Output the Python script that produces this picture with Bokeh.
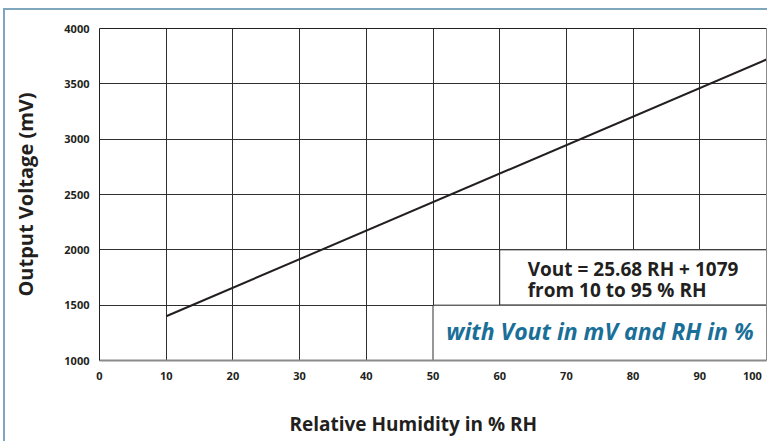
from bokeh.plotting import figure
from bokeh.models import LinearAxis, FixedTicker, Label, Range1d
from bokeh.embed import file_html
from bokeh.resources import INLINE

# ---- data ----
rh = [10, 100]                 # relative humidity (%)
vout = [1400, 3720]            # output voltage (mV) as drawn
x_ticks = [0, 10, 20, 30, 40, 50, 60, 70, 80, 90, 100]
y_ticks = [1000, 1500, 2000, 2500, 3000, 3500, 4000]
eq_line1 = "Vout = 25.68 RH + 1079"
eq_line2 = "from 10 to 95 % RH"
units_note = "with Vout in mV and RH in %"
x_title = "Relative Humidity in % RH"
y_title = "Output Voltage (mV)"

# ---- styles ----
FONT = "Open Sans"
DARK = "#231f20"
GRID = "#2f2f2f"
EDGE_GREY = "#8a8a8a"
BLUE = "#1a6f98"
BORDER = "#7ea7bd"
NBSP = "\u00a0"

p = figure(width=764, height=433,
           x_range=Range1d(x_ticks[0], x_ticks[-1]),
           y_range=Range1d(y_ticks[0], y_ticks[-1]),
           output_backend="svg", toolbar_location=None,
           min_border_left=94, min_border_right=3,
           min_border_top=18, min_border_bottom=83,
           x_axis_label=x_title + NBSP * 8, y_axis_label=y_title,
           styles={"margin-left": "3px", "margin-top": "8px",
                   "border-left": f"2px solid {BORDER}",
                   "border-top": f"2px solid {BORDER}"})
p.outline_line_color = None
p.background_fill_color = "white"
p.border_fill_color = "white"

# grid
p.xgrid.ticker = FixedTicker(ticks=x_ticks[1:-1])
p.ygrid.ticker = FixedTicker(ticks=y_ticks[1:-1])
p.grid.grid_line_color = GRID
p.grid.grid_line_width = 1

# axes
for ax in (p.xaxis[0], p.yaxis[0]):
    ax.major_tick_out = 0
    ax.major_tick_in = 0
    ax.minor_tick_out = 0
    ax.minor_tick_in = 0
    ax.major_label_text_font = FONT
    ax.major_label_text_font_style = "bold"
    ax.major_label_text_font_size = "11px"
    ax.major_label_text_color = DARK
    ax.axis_label_text_font = FONT
    ax.axis_label_text_font_style = "bold"
    ax.axis_label_text_color = DARK

p.xaxis.axis_label_text_font_size = "19px"
p.yaxis.axis_label_text_font_size = "20px"
p.xaxis.ticker = FixedTicker(ticks=x_ticks)
p.yaxis.ticker = FixedTicker(ticks=y_ticks)
# last label padded so it stays inside the page, as in the reference
p.xaxis.major_label_overrides = {x_ticks[-1]: str(x_ticks[-1]) + NBSP * 2}
p.xaxis.axis_line_color = EDGE_GREY
p.xaxis.axis_line_width = 2
p.yaxis.axis_line_color = DARK
p.yaxis.axis_line_width = 1
p.yaxis.major_label_standoff = 10
p.xaxis.major_label_standoff = 7
p.yaxis.axis_label_standoff = 22
p.xaxis.axis_label_standoff = 25

# right and top frame edges
right_ax = LinearAxis(ticker=FixedTicker(ticks=[]), axis_line_color=EDGE_GREY,
                      axis_line_width=1, major_tick_out=0, minor_tick_out=0,
                      major_label_text_font_size="0px")
top_ax = LinearAxis(ticker=FixedTicker(ticks=[]), axis_line_color=DARK,
                    axis_line_width=1, major_tick_out=0, minor_tick_out=0,
                    major_label_text_font_size="0px")
p.add_layout(right_ax, "right")
p.add_layout(top_ax, "above")

# white panels behind the annotation text (they hide the grid cells)
p.quad(left=[60], right=[100], bottom=[1500], top=[2000],
       fill_color="white", line_color=GRID, line_width=1)
p.quad(left=[50], right=[100], bottom=[1000], top=[1500],
       fill_color="white", line_color=GRID, line_width=1)

# the response line
p.line(rh, vout, line_color=DARK, line_width=2)

# annotation texts
p.add_layout(Label(x=64.2, y=1831, text=eq_line1, text_baseline="middle",
                   text_font=FONT, text_font_style="bold",
                   text_font_size="19px", text_color=DARK))
p.add_layout(Label(x=64.2, y=1633, text=eq_line2, text_baseline="middle",
                   text_font=FONT, text_font_style="bold",
                   text_font_size="19px", text_color=DARK))
p.add_layout(Label(x=52.0, y=1271, text=units_note, text_baseline="middle",
                   text_font=FONT, text_font_style="bold italic",
                   text_font_size="23px", text_color=BLUE))

open("out.html", "w").write(file_html(p, INLINE))
